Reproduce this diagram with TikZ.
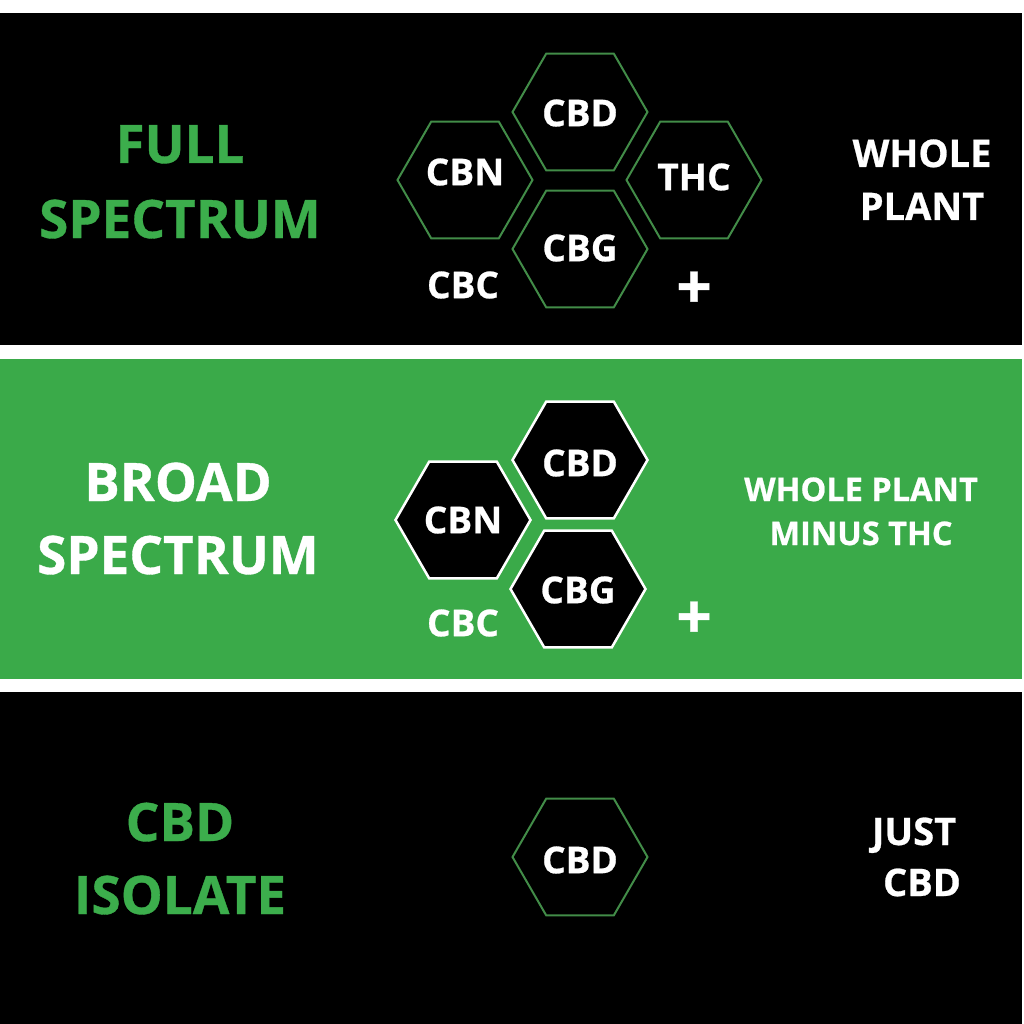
\documentclass[tikz,border=0pt]{standalone}
\usepackage{fontspec}
\setmainfont{Open Sans}[BoldFeatures={FakeBold=0.7}]
\usetikzlibrary{shapes.geometric}
\definecolor{bandgreen}{RGB}{58,170,73}
\definecolor{titlegreen}{RGB}{60,174,76}
\definecolor{hexgreen}{RGB}{66,140,72}
\tikzset{
  hexbase/.style={regular polygon, regular polygon sides=6,
    minimum size=135pt, inner sep=0pt, outer sep=0pt},
  hexline/.style={hexbase, draw=hexgreen, line width=2pt},
  hexfill/.style={hexbase, fill=black, draw=white, line width=2.5pt},
  hexlbl/.style={text=white, font=\bfseries\fontsize{37}{37}\selectfont, inner sep=0pt},
  title/.style={font=\bfseries\fontsize{53}{53}\selectfont, inner sep=0pt, anchor=base},
  side/.style={text=white, font=\bfseries\fontsize{38}{38}\selectfont, inner sep=0pt, anchor=base},
  sidesmall/.style={text=white, font=\bfseries\fontsize{32.5}{32.5}\selectfont, inner sep=0pt, anchor=base},
  plus/.style={text=white, font=\bfseries\fontsize{62}{62}\selectfont, inner sep=0pt}
}
\begin{document}
\begin{tikzpicture}[x=1pt,y=-1pt]
\useasboundingbox (0,0) rectangle (1024,1024);
\fill[white] (0,0) rectangle (1024,1024);
% bands
\fill[black] (0,13) rectangle (1022,345);
\fill[bandgreen] (0,359) rectangle (1022,679);
\fill[black] (0,692) rectangle (1022,1024);

% ---- Full spectrum ----
\node[title, text=titlegreen] (t1a) at (180,163) {FULL};
\node[title, text=titlegreen] (t1b) at (180,238) {SPECTRUM};
\node[hexline] (h1d) at (580,112) {};
\node[hexline] (h1n) at (465,180) {};
\node[hexline] (h1t) at (694,180) {};
\node[hexline] (h1g) at (580,249) {};
\node[hexlbl] (l1d) at (580,113) {CBD};
\node[hexlbl] (l1n) at (465,172) {CBN};
\node[hexlbl] (l1t) at (694,177) {THC};
\node[hexlbl] (l1g) at (580,248) {CBG};
\node[hexlbl] (l1c) at (463,285) {CBC};
\node[plus] (p1) at (694,290) {+};
\node[side] (s1a) at (922,167) {WHOLE};
\node[side] (s1b) at (922,220) {PLANT};

% ---- Broad spectrum ----
\node[title, text=white] (t2a) at (178,501) {BROAD};
\node[title, text=white] (t2b) at (178,574) {SPECTRUM};
\node[hexfill] (h2d) at (580,460) {};
\node[hexfill] (h2n) at (463,520) {};
\node[hexfill] (h2g) at (578,589) {};
\node[hexlbl] (l2d) at (580,463) {CBD};
\node[hexlbl] (l2n) at (463,520) {CBN};
\node[hexlbl] (l2g) at (578,590) {CBG};
\node[hexlbl] (l2c) at (463,623) {CBC};
\node[plus] (p2) at (694,620) {+};
\node[sidesmall] (s2a) at (861,501) {WHOLE PLANT};
\node[sidesmall] (s2b) at (861,545) {MINUS THC};

% ---- CBD isolate ----
\node[title, text=titlegreen] (t3a) at (180,841) {CBD};
\node[title, text=titlegreen] (t3b) at (180,914) {ISOLATE};
\node[hexline] (h3d) at (580,857) {};
\node[hexlbl] (l3d) at (580,860) {CBD};
\node[side] (s3a) at (914,845) {JUST};
\node[side] (s3b) at (922,896) {CBD};
\end{tikzpicture}
\end{document}
